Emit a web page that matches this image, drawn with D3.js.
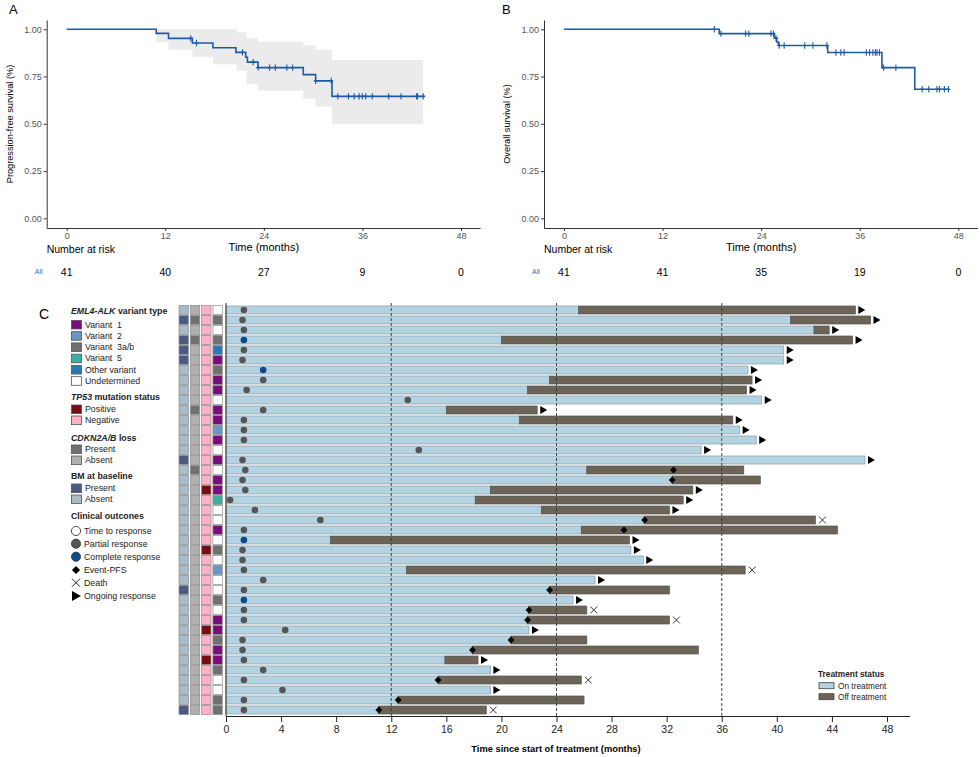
<!DOCTYPE html>
<html>
<head>
<meta charset="utf-8">
<script src="https://cdn.jsdelivr.net/npm/d3@7"></script>
<style>
  body { margin: 0; background: #fff; }
  svg { font-family: "Liberation Sans", Arial, sans-serif; }
</style>
</head>
<body>
<svg id="chart" width="980" height="757"></svg>
<script>
// ---------- data: Kaplan-Meier panels ----------
const riskMonths = [0, 12, 24, 36, 48];
const pfsAtRisk = [41, 40, 27, 9, 0];
const osAtRisk = [41, 41, 35, 19, 0];
const survTicks = [0, 0.25, 0.5, 0.75, 1];

// PFS step curve (time in months, survival)
const pfsTime = [0, 10.9, 12.4, 15.3, 17.8, 20.6, 21.8, 22.0, 23.3, 28.8, 30.3, 32.3, 43.6];
const pfsSurv = [1, 0.978, 0.952, 0.927, 0.902, 0.878, 0.852, 0.826, 0.797, 0.760, 0.727, 0.645, 0.645];
const pfsCensor = [15.1, 15.8, 21.4, 22.7, 23.3, 24.7, 25.4, 26.8, 27.5, 30.3, 32.2, 33.0, 34.3, 35.0,
                   35.6, 36.0, 36.4, 37.2, 39.2, 40.7, 42.6, 42.7, 43.4];
// PFS confidence band
const bandTime  = [10.9, 12.4, 15.3, 17.8, 20.7, 21.9, 23.3, 28.8, 30.3, 32.3, 43.4];
const bandLower = [0.931, 0.891, 0.855, 0.815, 0.780, 0.709, 0.675, 0.631, 0.591, 0.497, 0.497];
const bandUpper = [1, 1, 1, 1, 0.984, 0.952, 0.935, 0.917, 0.891, 0.838, 0.838];

// OS step curve
const osTime = [0, 18.9, 25.6, 25.9, 26.1, 32.1, 38.7, 42.7, 46.9];
const osSurv = [1, 0.977, 0.953, 0.933, 0.914, 0.877, 0.797, 0.683, 0.683];
const osCensor = [18.3, 19.1, 22.1, 22.5, 25.2, 25.5, 25.8, 26.2, 26.8, 29.3, 30.3, 32.0, 33.1, 33.7, 34.1,
                  36.8, 37.2, 37.6, 37.9, 38.1, 38.4, 38.9, 40.4, 43.6, 44.4, 45.4, 45.7, 46.3, 46.8];

// ---------- data: swimmer plot (41 patients, top to bottom) ----------
const onEnd = [25.6, 41.0, 42.7, 20.0, 40.5, 40.5, 37.9, 23.5, 21.9, 38.9, 16.0, 21.3, 37.3, 38.5, 34.5,
               46.4, 26.2, 32.4, 19.2, 18.1, 22.9, 30.4, 25.8, 7.6, 29.4, 30.3, 13.1, 26.8, 23.5, 25.2,
               22.0, 21.9, 22.0, 20.7, 17.9, 15.9, 19.2, 15.4, 19.2, 12.5, 11.1];
const offEnd = [45.7, 46.8, 43.8, 45.5, null, null, null, 38.2, 37.8, null, 22.6, 36.8, null, null, null,
                null, 37.6, 38.8, 33.9, 33.2, 32.2, 42.8, 44.4, 29.3, null, null, 37.7, null, 32.2, null,
                26.2, 32.2, null, 26.2, 34.3, 18.3, null, 25.8, null, 26.0, 18.9];
const respTime = [1.3, 1.2, 1.3, 1.3, 1.3, 1.2, 2.7, 2.7, 1.5, 13.2, 2.7, 1.3, 1.3, 1.3, 14.0,
                  1.2, 1.4, 1.2, 1.4, 0.3, 2.1, 6.85, 1.3, 1.3, 1.2, 1.2, 1.3, 2.7, 1.3, 1.3,
                  1.3, 1.3, 4.3, 1.2, 1.2, 1.3, 2.7, 1.3, 4.1, 1.3, 1.3];
const respType = ["PR","PR","PR","CR","PR","PR","CR","PR","PR","PR","PR","PR","PR","PR","PR",
                  "PR","PR","PR","PR","PR","PR","PR","PR","CR","PR","PR","PR","PR","PR","CR",
                  "PR","PR","PR","PR","PR","PR","PR","PR","PR","PR","PR"];
const pfsEvent = [null, null, null, null, null, null, null, null, null, null, null, null, null, null, null,
                  null, 32.5, 32.4, null, null, null, 30.4, 28.9, null, null, null, null, null, 23.5, null,
                  22.0, 21.9, null, 20.7, 17.9, null, null, 15.4, null, 12.5, 11.1];
const endMark = ["arrow","arrow","arrow","arrow","arrow","arrow","arrow","arrow","arrow","arrow",
                 "arrow","arrow","arrow","arrow","arrow","arrow","","","arrow","arrow",
                 "arrow","death","","arrow","arrow","arrow","death","arrow","","arrow",
                 "death","death","arrow","","","arrow","arrow","death","arrow","",
                 "death"];
const bmBaseline = ["A","P","A","P","P","P","A","A","A","A","A","A","A","A","A","P","A","A","A","A","A",
                    "A","A","A","A","A","A","A","P","A","A","A","A","A","A","A","A","A","A","A","P"];
const cdknLoss = ["A","P","A","P","A","A","A","A","A","A","P","A","A","A","A","A","P","A","A","A","A",
                  "A","A","A","A","A","A","A","A","A","A","A","A","A","A","A","A","A","A","A","A"];
const tp53 = ["N","N","N","N","N","N","N","N","N","N","N","N","N","N","N","N","N","N","P","N","N",
              "N","N","N","P","N","N","N","N","N","N","N","P","N","N","P","N","N","N","N","N"];
const variant = ["U","V3","U","V3","O","V1","V3","V1","V1","U","V1","V1","V2","V1","U","V1","U","V1","V1","V5","U",
                 "U","V1","U","V3","U","V2","U","U","V3","U","V1","V1","V3","V1","V1","V3","U","U","V3","V3"];
const swimTicks = [0, 4, 8, 12, 16, 20, 24, 28, 32, 36, 40, 44, 48];
const refMonths = [12, 24, 36];

// legend categories
const variantKeys = ["V1", "V2", "V3", "V5", "O", "U"];
const variantLabels = ["Variant  1", "Variant  2", "Variant  3a/b", "Variant  5", "Other variant", "Undetermined"];
const outcomeLabels = ["Time to response", "Partial response", "Complete response", "Event-PFS", "Death", "Ongoing response"];

// ---------- colours ----------
const variantColor = d3.scaleOrdinal(variantKeys, ["#7c0b7c", "#6b95c4", "#707070", "#3bb0a0", "#2b79b3", "#ffffff"]);
const tp53Color = {P: "#7a0d12", N: "#ffb1c5"};
const cdknColor = {P: "#717171", A: "#b0b0b0"};
const bmColor = {P: "#4b5a82", A: "#aabbc9"};
const onColor = "#b3d3e3", offColor = "#6c6557";
const kmBlue = "#1f5aa5";

const svg = d3.select("#chart");

// ---------- Kaplan-Meier panel ----------
function kmPanel(p) {
    const x = d3.scaleLinear().domain([-2.43, 50.31]).range([p.left, p.left + 433.3]);
    const y = d3.scaleLinear().domain([-0.0513, 1.049]).range([228, 20]);
    const g = svg.append("g");

    if (p.band) {
        const pts = p.band.time.map((t, i) => ({t, lo: p.band.lower[i], hi: p.band.upper[i]}));
        g.append("path")
            .datum(pts)
            .attr("fill", "#ebebeb")
            .attr("d", d3.area().curve(d3.curveStepAfter)
                .x(d => x(d.t)).y0(d => y(d.lo)).y1(d => y(d.hi)));
    }

    const pts = p.time.map((t, i) => [t, p.surv[i]]);
    g.append("path")
        .datum(pts)
        .attr("fill", "none")
        .attr("stroke", kmBlue)
        .attr("stroke-width", 1.6)
        .attr("d", d3.line().curve(d3.curveStepAfter).x(d => x(d[0])).y(d => y(d[1])));

    // censor marks
    const survAt = t => p.surv[d3.bisectRight(p.time, t) - 1];
    g.append("g").selectAll("path")
        .data(p.censor)
        .join("path")
        .attr("stroke", kmBlue)
        .attr("stroke-width", 1.1)
        .attr("d", t => `M${x(t)},${y(survAt(t)) - 3.2}v6.4M${x(t) - 2},${y(survAt(t))}h4`);

    // axes
    const ax = g.append("g")
        .attr("transform", "translate(0,228)")
        .call(d3.axisBottom(x).tickValues(riskMonths).tickSize(3).tickSizeOuter(0).tickPadding(2));
    const ay = g.append("g")
        .attr("transform", `translate(${p.left},0)`)
        .call(d3.axisLeft(y).tickValues(survTicks).tickFormat(d3.format(".2f")).tickSize(3).tickSizeOuter(0).tickPadding(2));
    [ax, ay].forEach(a => {
        a.select(".domain").attr("stroke", "#333");
        a.selectAll(".tick line").attr("stroke", "#333");
        a.selectAll("text").attr("fill", "#555").style("font-size", "9px")
            .style("font-family", "Liberation Sans, Arial, sans-serif");
    });

    g.append("text")
        .attr("transform", `translate(${p.left - 37},124) rotate(-90)`)
        .attr("text-anchor", "middle")
        .attr("dominant-baseline", "central")
        .style("font-size", "9.2px")
        .text(p.ytitle);

    g.append("text")
        .attr("x", x(24)).attr("y", 251)
        .attr("text-anchor", "middle")
        .style("font-size", "11px")
        .text("Time (months)");

    g.append("text")
        .attr("x", p.left).attr("y", 253)
        .style("font-size", "10.5px")
        .text("Number at risk");

    g.append("text")
        .attr("x", p.left - 8).attr("y", 274)
        .attr("text-anchor", "middle")
        .attr("fill", "#3a68b0")
        .style("font-size", "7px")
        .text("All");

    g.append("g").selectAll("text")
        .data(p.risk)
        .join("text")
        .attr("x", (d, i) => x(riskMonths[i]))
        .attr("y", 276)
        .attr("text-anchor", "middle")
        .style("font-size", "10.5px")
        .text(d => d);

    svg.append("text")
        .attr("x", p.labelX).attr("y", 14)
        .style("font-size", "13px")
        .text(p.label);
}

kmPanel({left: 46.7, label: "A", labelX: 9, ytitle: "Progression-free survival (%)",
         time: pfsTime, surv: pfsSurv, censor: pfsCensor,
         band: {time: bandTime, lower: bandLower, upper: bandUpper}, risk: pfsAtRisk});
kmPanel({left: 544, label: "B", labelX: 502, ytitle: "Overall survival (%)",
         time: osTime, surv: osSurv, censor: osCensor, band: null, risk: osAtRisk});

// ---------- swimmer plot ----------
const rows = d3.range(onEnd.length);
const xS = d3.scaleLinear().domain([0, 48]).range([226, 887]);
const yS = d3.scaleBand().domain(rows).range([305, 715]).paddingInner(0.2).paddingOuter(0.1);
const bh = yS.bandwidth();
const cy = i => yS(i) + bh / 2;

const sw = svg.append("g");

// annotation tiles
const tileCols = [
    {x: 179, get: i => bmColor[bmBaseline[i]]},
    {x: 190.3, get: i => cdknColor[cdknLoss[i]]},
    {x: 201.6, get: i => tp53Color[tp53[i]]},
    {x: 212.9, get: i => variantColor(variant[i])}
];
tileCols.forEach(c => {
    sw.append("g").selectAll("rect")
        .data(rows)
        .join("rect")
        .attr("x", c.x).attr("y", i => yS(i) - 0.5)
        .attr("width", 9.4).attr("height", bh + 1)
        .attr("fill", c.get)
        .attr("stroke", "#8c8c8c")
        .attr("stroke-width", 0.7);
});

// bars
sw.append("g").selectAll("rect")
    .data(rows)
    .join("rect")
    .attr("x", xS(0))
    .attr("y", i => yS(i))
    .attr("width", i => xS(onEnd[i]) - xS(0))
    .attr("height", bh)
    .attr("fill", onColor)
    .attr("stroke", "#8e9aa2")
    .attr("stroke-width", 0.7);

sw.append("g").selectAll("rect")
    .data(rows.filter(i => offEnd[i] != null))
    .join("rect")
    .attr("x", i => xS(onEnd[i]))
    .attr("y", i => yS(i))
    .attr("width", i => xS(offEnd[i]) - xS(onEnd[i]))
    .attr("height", bh)
    .attr("fill", offColor)
    .attr("stroke", "#555")
    .attr("stroke-width", 0.7);

// reference lines
sw.append("g").selectAll("line")
    .data(refMonths)
    .join("line")
    .attr("x1", d => xS(d)).attr("x2", d => xS(d))
    .attr("y1", 303).attr("y2", 716)
    .attr("stroke", "#333")
    .attr("stroke-width", 0.9)
    .attr("stroke-dasharray", "3,2");

// response markers
sw.append("g").selectAll("circle")
    .data(rows)
    .join("circle")
    .attr("cx", i => xS(respTime[i]))
    .attr("cy", cy)
    .attr("r", 3.3)
    .attr("fill", i => respType[i] === "CR" ? "#0c4a8e" : "#555");

// event-PFS diamonds (rotated squares)
sw.append("g").selectAll("path")
    .data(rows.filter(i => pfsEvent[i] != null))
    .join("path")
    .attr("transform", i => `translate(${xS(pfsEvent[i])},${cy(i)}) rotate(45)`)
    .attr("d", d3.symbol(d3.symbolSquare, 24))
    .attr("fill", "#000");

const endX = i => xS(offEnd[i] != null ? offEnd[i] : onEnd[i]);

// ongoing response arrows
sw.append("g").selectAll("path")
    .data(rows.filter(i => endMark[i] === "arrow"))
    .join("path")
    .attr("d", i => `M${endX(i) + 3},${cy(i) - 4}L${endX(i) + 10},${cy(i)}L${endX(i) + 3},${cy(i) + 4}Z`)
    .attr("fill", "#000");

// deaths
sw.append("g").selectAll("path")
    .data(rows.filter(i => endMark[i] === "death"))
    .join("path")
    .attr("d", i => {
        const cx = endX(i) + 7, c = cy(i), r = 3.4;
        return `M${cx - r},${c - r}L${cx + r},${c + r}M${cx - r},${c + r}L${cx + r},${c - r}`;
    })
    .attr("stroke", "#333")
    .attr("stroke-width", 1);

// axes
const sx = sw.append("g")
    .attr("transform", "translate(0,716)")
    .call(d3.axisBottom(xS).tickValues(swimTicks).tickSize(6).tickSizeOuter(0).tickPadding(4));
sx.select(".domain").attr("d", `M${xS(0)},0.5H910`).attr("stroke", "#222");
sx.selectAll(".tick line").attr("stroke", "#222");
sx.selectAll("text").attr("fill", "#222").style("font-size", "10.5px")
    .style("font-family", "Liberation Sans, Arial, sans-serif");

sw.append("line")
    .attr("x1", xS(0)).attr("x2", xS(0))
    .attr("y1", 303).attr("y2", 716)
    .attr("stroke", "#222");

sw.append("text")
    .attr("x", 556).attr("y", 752)
    .attr("text-anchor", "middle")
    .style("font-size", "9.3px")
    .style("font-weight", "bold")
    .text("Time since start of treatment (months)");

svg.append("text")
    .attr("x", 39).attr("y", 319)
    .style("font-size", "14px")
    .text("C");

// ---------- left legend ----------
const lg = svg.append("g").style("font-size", "8.8px").attr("fill", "#222");

function heading(y, parts) {
    const t = lg.append("text").attr("x", 71).attr("y", y + 3).style("font-weight", "bold");
    parts.forEach(p => t.append("tspan").style("font-style", p[1] ? "italic" : "normal").text(p[0]));
}
function swatches(y0, step, labels, colors) {
    labels.forEach((l, i) => {
        const y = y0 + i * step;
        lg.append("rect").attr("x", 71.5).attr("y", y - 4.3).attr("width", 10).attr("height", 8.6)
            .attr("fill", colors[i]).attr("stroke", "#555").attr("stroke-width", 0.8);
        lg.append("text").attr("x", 85).attr("y", y + 3).style("white-space", "pre").text(l);
    });
}

heading(311, [["EML4-ALK", true], [" variant type", false]]);
swatches(324.7, 11.26, variantLabels, variantKeys.map(k => variantColor(k)));
heading(396.7, [["TP53", true], [" mutation status", false]]);
swatches(409.3, 11, ["Positive", "Negative"], [tp53Color.P, tp53Color.N]);
heading(437.7, [["CDKN2A/B", true], [" loss", false]]);
swatches(449.3, 11, ["Present", "Absent"], [cdknColor.P, cdknColor.A]);
heading(475.7, [["BM at baseline", false]]);
swatches(488.3, 11, ["Present", "Absent"], [bmColor.P, bmColor.A]);
heading(515.7, [["Clinical outcones", false]]);

const outY = [531, 543.7, 556.7, 570, 582.7, 596];
outcomeLabels.forEach((l, i) => {
    const y = outY[i], x = 76;
    if (i < 3) {
        lg.append("circle").attr("cx", x).attr("cy", y).attr("r", 4.6)
            .attr("fill", ["#fff", "#555", "#0c4a8e"][i]).attr("stroke", i === 0 ? "#222" : "#333").attr("stroke-width", 0.8);
    } else if (i === 3) {
        lg.append("path").attr("transform", `translate(${x},${y}) rotate(45)`)
            .attr("d", d3.symbol(d3.symbolSquare, 34)).attr("fill", "#000");
    } else if (i === 4) {
        lg.append("path").attr("d", `M${x - 4},${y - 4}L${x + 4},${y + 4}M${x - 4},${y + 4}L${x + 4},${y - 4}`)
            .attr("stroke", "#222").attr("stroke-width", 1);
    } else {
        lg.append("path").attr("d", `M${x - 4},${y - 5}L${x + 5},${y}L${x - 4},${y + 5}Z`).attr("fill", "#000");
    }
    lg.append("text").attr("x", 84).attr("y", y + 3).text(l);
});

// ---------- treatment status legend ----------
const tg = svg.append("g").style("font-size", "8.3px").attr("fill", "#222");
tg.append("text").attr("x", 818).attr("y", 677).style("font-weight", "bold").text("Treatment status");
[["On treatment", onColor], ["Off treatment", offColor]].forEach((d, i) => {
    const y = 685.7 + i * 11;
    tg.append("rect").attr("x", 819).attr("y", y - 3).attr("width", 15).attr("height", 6)
        .attr("fill", d[1]).attr("stroke", "#444").attr("stroke-width", 0.8);
    tg.append("text").attr("x", 838).attr("y", y + 3).text(d[0]);
});
</script>
</body>
</html>
